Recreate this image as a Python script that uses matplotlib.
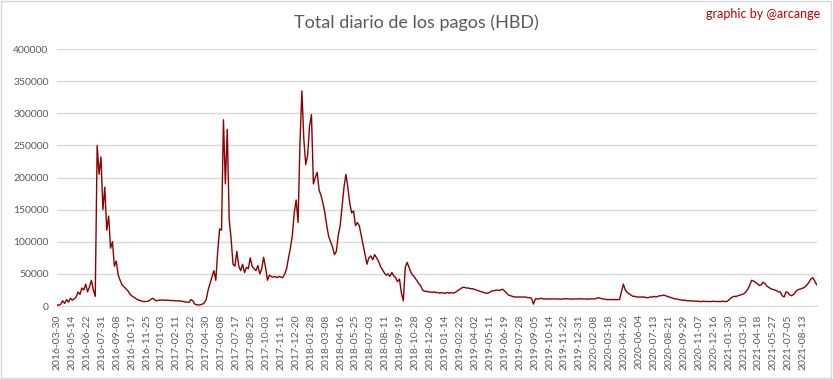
import numpy as np
import matplotlib
matplotlib.use('Agg')
import matplotlib.pyplot as plt
from matplotlib.patches import Rectangle

# daily HBD payouts, read every 5th day off the chart (thousands of HBD)
hbd_2016 = [2, 1, 3, 8, 4, 10, 6, 12, 9, 11, 14, 22, 18, 28, 25, 34, 22, 30, 40, 25, 15,
            250, 205, 232, 150, 185, 118, 140, 90, 100, 62, 70, 48, 40, 33, 30, 27, 24, 19, 16, 14,
            12, 10, 9, 8, 7, 7, 7, 8, 10, 12, 10, 8, 9, 9]
hbd_2017 = [9.5, 9, 9, 9, 8.5, 8.5,
            8.5, 8, 8, 8, 7.5, 7, 6.5, 6, 5.5, 10, 8, 3, 2, 1.5, 2, 3, 5, 10, 25, 35,
            45, 55, 40, 85, 120, 118, 290, 190, 275, 135, 105, 65, 62, 85, 62, 55, 65, 52, 60, 58,
            75, 62, 58, 55, 63, 50, 58, 76, 60, 40, 48, 46, 45, 46, 44, 46, 45, 44, 50, 58,
            75, 90, 110, 145, 165, 130, 255, 335, 260, 220, 235, 280]
hbd_2018 = [298, 190, 200, 208, 180, 172, 160, 145,
            125, 108, 100, 92, 80, 85, 110, 125, 155, 185, 205, 185, 160, 145, 148, 125, 130, 125, 110, 95,
            80, 65, 75, 78, 72, 80, 75, 70, 62, 57, 52, 48, 50, 46, 52, 47, 44, 38, 42, 20,
            8, 60, 68, 60, 52, 48, 44, 40, 35, 32, 25, 23, 23, 22, 22, 21, 22, 21, 21, 20,
            21, 20]
hbd_2019 = [20, 21, 20, 21, 20, 21, 23, 25, 27, 29, 29, 28, 28, 27, 27, 26, 25, 24,
            23, 22, 21, 20, 20, 21, 23, 24, 24, 25, 24, 25, 26, 23, 20, 17, 16, 15, 14, 14,
            14, 14, 14, 14, 14, 13, 13, 12, 3, 11, 11, 11, 12, 11, 11, 11, 11, 11, 11, 11,
            11, 11, 10.5, 11, 11, 11.5, 11, 11, 10.5, 11, 11, 11, 11.5, 11, 11, 11, 10.5, 11, 11, 11]
hbd_2020 = [11, 12, 13, 12, 11, 11, 10, 10, 10, 10, 10, 10, 10, 10, 22, 34, 25, 21, 19, 17,
            15, 15, 14, 14, 14, 14, 14, 13, 13, 14, 14, 15, 14, 15, 16, 16, 17, 16, 15, 14,
            13, 12, 11, 11, 10, 9.5, 9, 9, 8.5, 8, 8, 8, 7.5, 7.5, 7.5, 7, 7, 7.5, 7, 7,
            7, 7, 7.5, 7, 7, 7, 7, 7.5, 7, 7]
hbd_2021 = [9, 12, 14, 15, 15, 16, 17, 18, 19, 22,
            26, 32, 40, 39, 37, 35, 32, 33, 37, 35, 31, 29, 27, 26, 25, 24, 22, 22, 16, 14,
            22, 21, 17, 16, 18, 22, 25, 26, 27, 28, 30, 33, 37, 42, 44, 39, 33]

tick_labels = [
    '2016-03-30', '2016-05-14', '2016-06-22', '2016-07-31', '2016-09-08', '2016-10-17',
    '2016-11-25', '2017-01-03', '2017-02-11', '2017-03-22', '2017-04-30', '2017-06-08',
    '2017-07-17', '2017-08-25', '2017-10-03', '2017-11-11', '2017-12-20', '2018-01-28',
    '2018-03-08', '2018-04-16', '2018-05-25', '2018-07-03', '2018-08-11', '2018-09-19',
    '2018-10-28', '2018-12-06', '2019-01-14', '2019-02-22', '2019-04-02', '2019-05-11',
    '2019-06-19', '2019-07-28', '2019-09-05', '2019-10-14', '2019-11-22', '2019-12-31',
    '2020-02-08', '2020-03-18', '2020-04-26', '2020-06-04', '2020-07-13', '2020-08-21',
    '2020-09-29', '2020-11-07', '2020-12-16', '2021-01-30', '2021-03-10', '2021-04-18',
    '2021-05-27', '2021-07-05', '2021-08-13']
SAMPLE_STEP = 5   # days between stored values
TICK_STEP = 39    # days between axis labels

GRAY = '#595959'
GRID = '#d9d9d9'
plt.rcParams['font.family'] = ['Lato', 'DejaVu Sans']

vals = np.array(hbd_2016 + hbd_2017 + hbd_2018 + hbd_2019 + hbd_2020 + hbd_2021) * 1000
x = np.arange(len(vals)) * SAMPLE_STEP

fig = plt.figure(figsize=(8.33, 3.79), dpi=100)
ax = fig.add_axes([0.0684, 0.1926, 0.9124, 0.678])
ax.plot(x, vals, color='#8b0000', lw=1.0)

ax.set_xlim(0, 1986)
ax.set_ylim(0, 400000)
ax.set_yticks(np.arange(0, 400001, 50000))
ax.set_yticklabels([f'{v:d}' for v in range(0, 400001, 50000)])
ax.set_xticks(np.arange(len(tick_labels)) * TICK_STEP)
ax.set_xticklabels(tick_labels, rotation=90)
ax.tick_params(axis='both', length=0, labelsize=7.5, colors=GRAY)
ax.tick_params(axis='x', pad=6)
ax.tick_params(axis='y', pad=6)
ax.grid(axis='y', color=GRID, lw=1.0)
ax.set_axisbelow(True)
for s in ('top', 'right', 'left'):
    ax.spines[s].set_visible(False)
ax.spines['bottom'].set_color(GRID)

fig.text(0.5, 0.94, 'Total diario de los pagos (HBD)', ha='center', va='center',
         fontsize=13, color=GRAY)
fig.text(0.985, 0.962, 'graphic by @arcange', ha='right', va='center',
         fontsize=9, color='#c00000')
fig.patches.append(Rectangle((0.001, 0.002), 0.997, 0.995, transform=fig.transFigure,
                             fill=False, edgecolor=GRID, lw=1.0))

fig.savefig('out.png', dpi=100)
